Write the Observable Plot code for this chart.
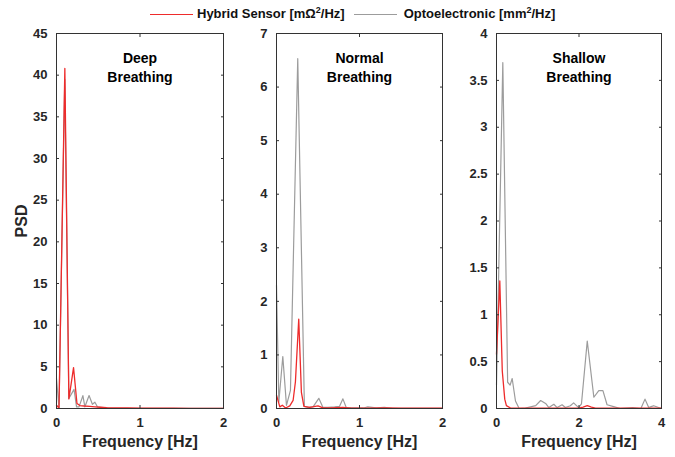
<!DOCTYPE html>
<html>
<head>
<meta charset="utf-8">
<script src="https://cdn.jsdelivr.net/npm/d3@7"></script>
<script src="https://cdn.jsdelivr.net/npm/@observablehq/plot@0.6"></script>
<style>
  body { margin: 0; background: #fff; }
  #wrap { position: relative; width: 675px; height: 457px; font-family: "Liberation Sans", Arial, sans-serif; background: #fff; overflow: hidden; }
  #legend { position: absolute; top: 4px; left: 150px; height: 20px; display: flex; align-items: center; font-size: 13px; font-weight: bold; color: #111; white-space: nowrap; line-height: 14px; }
  #legend .sw { display: inline-block; width: 43px; height: 0; border-top: 1.3px solid; }
  #legend .lab { margin-left: 4px; }
  #legend sup { font-size: 9px; line-height: 0; vertical-align: 5px; }
  .panel { position: absolute; top: 24px; }
  .panel svg { overflow: visible; }
  .panel svg g[aria-label="x-axis label"] text,
  .panel svg g[aria-label="y-axis label"] text { font-size: 16px; fill: #262626; }
</style>
</head>
<body>
<div id="wrap"><div id="legend"></div></div>
<script>
// ---- series labels & colours ----
const seriesLabels = ["Hybrid Sensor [mΩ<sup>2</sup>/Hz]", "Optoelectronic [mm<sup>2</sup>/Hz]"];
const seriesColors = ["#ee2b2b", "#9c9c9c"];

// ---- panel titles & ticks ----
const panelTitles = ["Deep\nBreathing", "Normal\nBreathing", "Shallow\nBreathing"];
const xDomainMax = [2, 2, 4];
const xTicksDeep = [0, 1, 2];
const xTicksNormal = [0, 1, 2];
const xTicksShallow = [0, 2, 4];
const yDomainMax = [45, 7, 4];
const yTicksDeep = [0, 5, 10, 15, 20, 25, 30, 35, 40, 45];
const yTicksNormal = [0, 1, 2, 3, 4, 5, 6, 7];
const yTicksShallow = [0, 0.5, 1, 1.5, 2, 2.5, 3, 3.5, 4];

// ---- Deep breathing ----
const deepHybridHz  = [0, 0.03, 0.1, 0.148, 0.17, 0.204, 0.245, 0.28, 0.33, 0.4, 0.46, 0.52, 0.6, 0.7, 0.85, 1.0, 1.2, 1.4, 1.6, 1.8, 2.0];
const deepHybridPSD = [0.4, 0.05, 40.8, 1.15, 2.6, 4.9, 0.6, 0.35, 0.3, 0.25, 0.2, 0.15, 0.1, 0.08, 0.06, 0.05, 0.04, 0.03, 0.02, 0.02, 0.02];
const deepOptoHz    = [0, 0.03, 0.099, 0.148, 0.21, 0.24, 0.27, 0.316, 0.34, 0.39, 0.43, 0.46, 0.49, 0.53, 0.57, 0.62, 0.7, 0.9, 1.2, 1.5, 2.0];
const deepOptoPSD   = [3.6, 0.05, 39.5, 1.2, 2.3, 0.2, 0.2, 1.55, 0.2, 1.55, 0.5, 0.75, 0.2, 0.15, 0.1, 0.05, 0.02, 0.01, 0.01, 0.01, 0.01];

// ---- Normal breathing ----
const normalHybridHz  = [0, 0.04, 0.07, 0.11, 0.16, 0.2, 0.228, 0.268, 0.3, 0.33, 0.4, 0.5, 0.56, 0.65, 0.8, 0.9, 1.1, 1.3, 1.5, 1.75, 2.0];
const normalHybridPSD = [0.25, 0.03, 0.06, 0.01, 0.05, 0.15, 0.5, 1.67, 0.3, 0.04, 0.02, 0.05, 0.01, 0.01, 0.02, 0.005, 0.005, 0.01, 0.005, 0.005, 0.005];
const normalOptoHz    = [0, 0.028, 0.076, 0.12, 0.168, 0.256, 0.336, 0.38, 0.44, 0.51, 0.56, 0.62, 0.7, 0.76, 0.8, 0.84, 0.9, 1.05, 1.1, 1.2, 1.3, 1.4, 1.6, 1.8, 2.0];
const normalOptoPSD   = [2.3, 0.12, 0.97, 0.06, 0.34, 6.53, 0.04, 0.02, 0.03, 0.19, 0.02, 0.02, 0.03, 0.04, 0.18, 0.02, 0.01, 0.01, 0.03, 0.01, 0.02, 0.005, 0.005, 0.005, 0.005];

// ---- Shallow breathing ----
const shallowHybridHz  = [0, 0.08, 0.14, 0.2, 0.24, 0.34, 0.6, 1.0, 1.5, 2.0, 2.1, 2.2, 2.3, 2.4, 3.0, 3.5, 4.0];
const shallowHybridPSD = [0.58, 1.36, 0.4, 0.1, 0.03, 0.005, 0.003, 0.003, 0.003, 0.005, 0.015, 0.03, 0.015, 0.003, 0.003, 0.003, 0.003];
const shallowOptoHz    = [0, 0.153, 0.27, 0.33, 0.38, 0.46, 0.55, 0.7, 0.85, 0.95, 1.07, 1.2, 1.27, 1.39, 1.47, 1.59, 1.67, 1.79, 1.87, 1.99, 2.06, 2.2, 2.36, 2.48, 2.58, 2.68, 2.84, 3.0, 3.3, 3.5, 3.6, 3.69, 3.75, 3.81, 3.93, 4.0];
const shallowOptoPSD   = [0.25, 3.69, 0.28, 0.25, 0.32, 0.08, 0.0, 0.005, 0.02, 0.03, 0.085, 0.05, 0.01, 0.045, 0.01, 0.04, 0.01, 0.03, 0.06, 0.01, 0.05, 0.72, 0.12, 0.19, 0.19, 0.04, 0.02, 0.0, 0.01, 0.0, 0.1, 0.01, 0.02, 0.03, 0.01, 0.0];

// ---- legend ----
const legend = document.getElementById("legend");
seriesLabels.forEach((lab, i) => {
  const sw = document.createElement("span");
  sw.className = "sw";
  sw.style.borderTopColor = seriesColors[i];
  if (i > 0) sw.style.marginLeft = "9px";
  const t = document.createElement("span");
  t.className = "lab";
  if (i > 0) t.style.marginLeft = "7px";
  t.innerHTML = lab;
  legend.appendChild(sw);
  legend.appendChild(t);
});

const zip = (xs, ys) => xs.map((x, i) => ({f: x, p: ys[i]}));
const fmt = d => String(d);

const panelDefs = [
  {left: 0, width: 230, ml: 56, mr: 7, hybrid: zip(deepHybridHz, deepHybridPSD), opto: zip(deepOptoHz, deepOptoPSD), xt: xTicksDeep, yt: yTicksDeep, ylabel: "PSD"},
  {left: 230, width: 219, ml: 46, mr: 7, hybrid: zip(normalHybridHz, normalHybridPSD), opto: zip(normalOptoHz, normalOptoPSD), xt: xTicksNormal, yt: yTicksNormal, ylabel: null},
  {left: 449, width: 226, ml: 47, mr: 14, hybrid: zip(shallowHybridHz, shallowHybridPSD), opto: zip(shallowOptoHz, shallowOptoPSD), xt: xTicksShallow, yt: yTicksShallow, ylabel: null}
];

const wrap = document.getElementById("wrap");
panelDefs.forEach((d, i) => {
  const chart = Plot.plot({
    width: d.width,
    height: 433,
    marginLeft: d.ml,
    marginRight: d.mr,
    marginTop: 9,
    marginBottom: 49,
    style: {fontFamily: '"Liberation Sans", Arial, sans-serif', fontSize: "13px", fontWeight: "bold", color: "#262626", background: "transparent", overflow: "visible"},
    x: {domain: [0, xDomainMax[i]]},
    y: {domain: [0, yDomainMax[i]]},
    marks: [
      Plot.line(d.opto, {x: "f", y: "p", stroke: seriesColors[1], strokeWidth: 1.2}),
      Plot.line(d.hybrid, {x: "f", y: "p", stroke: seriesColors[0], strokeWidth: 1.3}),
      Plot.frame({stroke: "#333", strokeWidth: 1}),
      Plot.axisX({ticks: d.xt, tickFormat: fmt, tickSize: -3, tickPadding: 12, label: "Frequency [Hz]", labelAnchor: "center", labelOffset: 38, labelArrow: "none", stroke: "#333"}),
      Plot.axisX({anchor: "top", ticks: d.xt, tickSize: -3, tickFormat: () => "", label: null, stroke: "#333"}),
      Plot.axisY({ticks: d.yt, tickFormat: fmt, tickSize: -3, tickPadding: 12, label: d.ylabel, labelAnchor: "center", labelOffset: 41, labelArrow: "none", stroke: "#333"}),
      Plot.axisY({anchor: "right", ticks: d.yt, tickSize: -3, tickFormat: () => "", label: null, stroke: "#333"}),
      Plot.text([panelTitles[i]], {frameAnchor: "top", lineAnchor: "top", dy: 16, fontSize: 14, fontWeight: "bold", lineHeight: 1.36, fill: "#000"})
    ]
  });
  const holder = document.createElement("div");
  holder.className = "panel";
  holder.style.left = d.left + "px";
  holder.appendChild(chart);
  wrap.appendChild(holder);
});
</script>
</body>
</html>
